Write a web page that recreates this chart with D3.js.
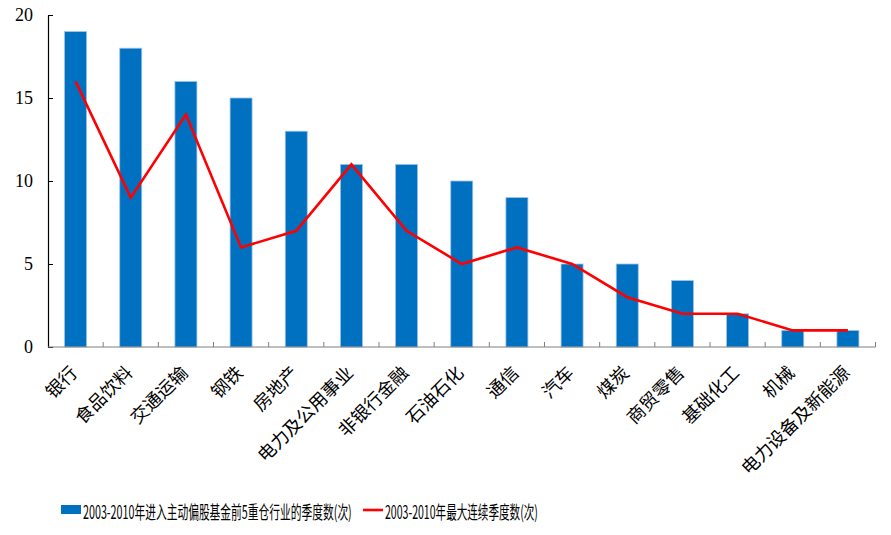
<!DOCTYPE html>
<html><head><meta charset="utf-8">
<script src="https://cdn.jsdelivr.net/npm/d3@7"></script>
<style>body{margin:0;background:#fff}</style>
</head><body>
<svg id="c" width="891" height="535"></svg>
<script>
const categories = ["银行","食品饮料","交通运输","钢铁","房地产","电力及公用事业","非银行金融","石油石化","通信","汽车","煤炭","商贸零售","基础化工","机械","电力设备及新能源"];
const barValues = [19,18,16,15,13,11,11,10,9,5,5,4,2,1,1];
const lineValues = [16,9,14,6,7,11,7,5,6,5,3,2,2,1,1];
const yTicks = [0,5,10,15,20];
const barName = "2003-2010年进入主动偏股基金前5重仓行业的季度数(次)";
const lineName = "2003-2010年最大连续季度数(次)";

(function(){
const svg = d3.select("#c");
const mL = 48, mR = 875.5, mT = 15, mB = 347;
const x = d3.scaleBand().domain(categories).range([mL, mR]).padding(0);
const y = d3.scaleLinear().domain([0, 20]).range([mB, mT]);
const cjk = "'Noto Sans CJK SC', sans-serif";
const serif = "'Liberation Serif', 'Times New Roman', serif";

// bars
const bw = 22;
svg.append("g").selectAll("rect").data(categories).join("rect")
  .attr("x", d => x(d) + x.bandwidth()/2 - bw/2)
  .attr("y", (d,i) => y(barValues[i]))
  .attr("width", bw)
  .attr("height", (d,i) => y(0) - y(barValues[i]))
  .attr("fill", "#0070C0")
  .attr("stroke", "#9DC3E6").attr("stroke-width", 0.8);

// line
const line = d3.line().x((d,i) => x(categories[i]) + x.bandwidth()/2).y(d => y(d));
svg.append("path").datum(lineValues).attr("d", line)
  .attr("fill", "none").attr("stroke", "#FF0000").attr("stroke-width", 2.6)
  .attr("stroke-linejoin", "miter");

// y axis
const ya = svg.append("g").attr("transform", `translate(${mL},0)`)
  .call(d3.axisLeft(y).tickValues(yTicks).tickSizeInner(-5).tickSizeOuter(0).tickPadding(15));
ya.select(".domain").attr("stroke", "#000").attr("stroke-width", 1.2);
ya.selectAll(".tick line").attr("stroke", "#000");
ya.selectAll("text").attr("font-family", serif).attr("font-size", 18).attr("fill", "#000");

// x axis
const boundaries = d3.range(categories.length + 1).map(i => mL + i * x.bandwidth());
const xa = svg.append("g");
xa.append("line").attr("x1", mL).attr("x2", mR).attr("y1", mB).attr("y2", mB)
  .attr("stroke", "#808080").attr("stroke-width", 1.2);
xa.selectAll("line.t").data(boundaries.slice(1)).join("line").attr("class","t")
  .attr("x1", d => d).attr("x2", d => d).attr("y1", mB).attr("y2", mB - 5)
  .attr("stroke", "#808080");
xa.selectAll("text").data(categories).join("text")
  .attr("transform", d => `translate(${x(d) + x.bandwidth()/2 + 3},${374}) rotate(-45)`)
  .attr("text-anchor", "end")
  .attr("font-family", cjk).attr("font-size", 18).attr("fill", "#000")
  .text(d => d);

// legend
function squeezed(g, tx, ty, txt, w) {
  const t = g.append("text").attr("font-family", cjk).attr("font-size", 18).attr("fill", "#000").text(txt);
  const nat = t.node().getComputedTextLength();
  t.attr("transform", `translate(${tx},${ty}) scale(${w/nat},1)`);
}
const lg = svg.append("g");
lg.append("rect").attr("x", 61).attr("y", 505).attr("width", 20).attr("height", 9).attr("fill", "#0070C0");
squeezed(lg, 83, 519, barName, 269);
lg.append("line").attr("x1", 363).attr("x2", 383).attr("y1", 510).attr("y2", 510)
  .attr("stroke", "#FF0000").attr("stroke-width", 2.6);
squeezed(lg, 385, 519, lineName, 153);
})();
</script>
</body></html>
